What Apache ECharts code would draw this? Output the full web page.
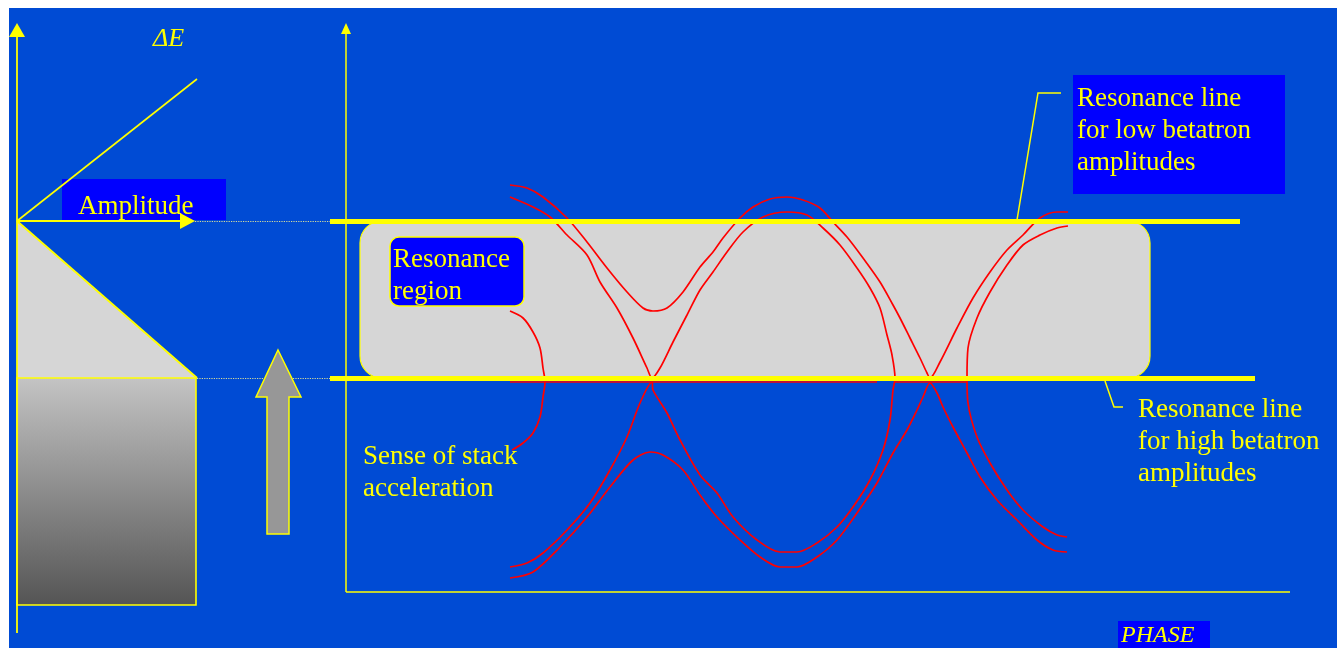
<!DOCTYPE html>
<html><head><meta charset="utf-8">
<script src="https://cdn.jsdelivr.net/npm/echarts@6/dist/echarts.min.js"></script>
<style>html,body{margin:0;padding:0;background:#fff}#c{width:1337px;height:648px}</style>
</head><body><div id="c"></div>
<script>
// ---------- DATA (phase-space diagram; x = phase, y = ΔE, arbitrary units) ----------
// Right panel: particle trajectories (red)
const trajOuterUpper = [[164,407],[181,404],[197,395],[221,374],[241,350],[261,324],[281,300],[297,284],[307,281],[321,284],[337,300],[354,325],[367,340],[377,354],[394,374],[407,385],[424,393],[441,395],[457,392],[474,384],[487,370],[501,355],[517,334],[534,310],[547,287],[554,274],[564,254],[574,234],[581,219],[584,214],[594,230],[611,264],[627,294],[644,320],[661,342],[677,357],[694,374],[711,380],[722,380]];
const trajSeparatrix = [[164,395],[187,385],[204,375],[221,357],[241,337],[254,310],[271,284],[287,254],[301,224],[306,214],[314,224],[327,250],[341,277],[354,302],[367,320],[381,340],[397,360],[417,375],[441,380],[461,377],[477,364],[494,347],[511,324],[524,304],[534,284],[541,257],[546,237],[549,214],[547,202],[544,172],[537,142],[524,112],[507,85],[491,65],[471,49],[451,40],[434,40],[411,52],[387,75],[371,99],[354,117],[334,152],[321,179],[307,202],[306,210],[294,189],[281,155],[264,122],[244,89],[221,62],[197,39],[181,29],[164,25]];
const trajOuterLower = [[164,14],[187,20],[214,45],[241,75],[264,105],[287,132],[304,140],[317,137],[337,122],[354,97],[371,75],[394,52],[414,35],[434,25],[451,25],[471,35],[491,52],[511,79],[531,109],[547,139],[561,162],[571,182],[577,195],[584,209],[591,199],[597,185],[607,165],[621,139],[634,115],[651,92],[671,72],[691,52],[707,42],[721,40]];
const trajRightInner = [[722,366],[711,364],[694,357],[677,347],[661,327],[644,300],[631,274],[622,244],[621,214],[622,189],[631,155],[644,129],[661,102],[677,82],[697,65],[711,57],[721,55]];
const trajLeftBucket = [[164,281],[177,274],[187,260],[194,244],[197,224],[199,210],[197,195],[194,175],[187,159],[177,149],[166,142]];
const trajBaseA = [[164,210],[531,210]];
const trajBaseB = [[548,210],[621,210]];

// Resonance lines (ΔE levels) and their phase extent
const resonanceLowAmpLevel = 371;
const resonanceHighAmpLevel = 214;
const resonanceLowAmpPhase = [-16, 894];
const resonanceHighAmpPhase = [-16, 909];
const resonanceRegion = [14, 371, 804, 214];  // phase0, ΔE0, phase1, ΔE1
const phaseAxisEnd = 944;
const deltaEAxisEnd = 563.5;

// Left panel: stack distribution (amplitude vs ΔE)
const stackDistribution = [[0,371],[180,214]];
const stackBody = [0, 214, 179, -13];
const amplitudeDeltaE = [[0,371],[180,513]];
const amplitudeAxisEnd = 170.5;
const leftAxisRange = [-41, 562];
const guideEnd = 313;

// Texts
const txtDeltaE = 'ΔE';
const txtAmplitude = 'Amplitude';
const txtRegion = 'Resonance\nregion';
const txtLowAmp = 'Resonance line\nfor low betatron\namplitudes';
const txtHighAmp = 'Resonance line\nfor high betatron\namplitudes';
const txtStack = 'Sense of stack\nacceleration';
const txtPhase = 'PHASE';

// ---------- CHART ----------
const Y = '#FFFF00';
const SERIF = '"Liberation Serif","Times New Roman",serif';
const chart = echarts.init(document.getElementById('c'), null, {renderer:'canvas', width:1337, height:648});

function redLine(name, data){
  return {type:'line', name, xAxisIndex:1, yAxisIndex:1, data, symbol:'none', z:3, silent:true, smooth:0.3,
    lineStyle:{color:'#FF0000', width:1.7}};
}
function marks(name, gi, lines, style, z){
  return {type:'line', name, xAxisIndex:gi, yAxisIndex:gi, data:[], z, silent:true,
    markLine:{silent:true, symbol:['none','none'], label:{show:false}, lineStyle:style, data:lines}};
}
function rectItem(radius, fill, lw){
  return function(p, api){
    const a = api.coord([api.value(0), api.value(1)]);
    const b = api.coord([api.value(2), api.value(3)]);
    return {type:'rect', shape:{x:a[0], y:a[1], width:b[0]-a[0], height:b[1]-a[1], r:radius},
      style:{fill, stroke:Y, lineWidth:lw}};
  };
}

const option = {
  backgroundColor:'#FFFFFF',
  animation:false,
  grid:[{left:0, top:0, width:337, height:648}, {left:300, top:0, width:1037, height:648}],
  xAxis:[{gridIndex:0, type:'value', min:-17, max:320, show:false},
         {gridIndex:1, type:'value', min:-46, max:991, show:false}],
  yAxis:[{gridIndex:0, type:'value', min:-56, max:592, show:false},
         {gridIndex:1, type:'value', min:-56, max:592, show:false}],
  series:[
    // left panel
    marks('left axes', 0, [
      [{coord:[0,leftAxisRange[0]]},{coord:[0,leftAxisRange[1]], symbol:'triangle', symbolSize:[16,14]}],
    ], {color:Y, width:1.8, type:'solid'}, 2),
    marks('ΔE vs amplitude', 0, [
      [{coord:amplitudeDeltaE[0]},{coord:amplitudeDeltaE[1]}]
    ], {color:Y, width:1.6, type:'solid'}, 1),
    {type:'line', name:'distribution', xAxisIndex:0, yAxisIndex:0, data:stackDistribution, symbol:'none', z:3, silent:true,
      lineStyle:{color:Y, width:2}, areaStyle:{color:'#D6D6D6', opacity:1, origin:resonanceHighAmpLevel}},
    {type:'custom', name:'stack', xAxisIndex:0, yAxisIndex:0, z:4, silent:true, data:[stackBody],
      renderItem:rectItem(0, new echarts.graphic.LinearGradient(0,0,0,1,[{offset:0,color:'#C4C4C4'},{offset:1,color:'#545454'}]), 1.6)},
    marks('amplitude', 0, [
      [{coord:[0,resonanceLowAmpLevel]},{coord:[amplitudeAxisEnd,resonanceLowAmpLevel], symbol:'triangle', symbolSize:[16,15]}]
    ], {color:Y, width:1.8, type:'solid'}, 5),
    marks('guides', 0, [
      [{coord:[178,resonanceLowAmpLevel]},{coord:[guideEnd,resonanceLowAmpLevel]}],
      [{coord:[180,resonanceHighAmpLevel]},{coord:[guideEnd,resonanceHighAmpLevel]}]
    ], {color:'rgba(235,235,150,0.9)', width:1.2, type:'dotted'}, 5),
    // right panel
    {type:'custom', name:'resonance region', xAxisIndex:1, yAxisIndex:1, z:1, silent:true, data:[resonanceRegion],
      renderItem:rectItem(22, '#D6D6D6', 1.2)},
    marks('phase axes', 1, [
      [{coord:[0,0]},{coord:[phaseAxisEnd,0]}],
      [{coord:[0,0]},{coord:[0,deltaEAxisEnd], symbol:'triangle', symbolSize:[10,11]}]
    ], {color:Y, width:1.5, type:'solid'}, 2),
    redLine('outer upper', trajOuterUpper),
    redLine('separatrix', trajSeparatrix),
    redLine('outer lower', trajOuterLower),
    redLine('right inner', trajRightInner),
    redLine('left bucket', trajLeftBucket),
    redLine('base A', trajBaseA),
    redLine('base B', trajBaseB),
    marks('resonance lines', 1, [
      [{coord:[resonanceLowAmpPhase[0],resonanceLowAmpLevel]},{coord:[resonanceLowAmpPhase[1],resonanceLowAmpLevel]}],
      [{coord:[resonanceHighAmpPhase[0],resonanceHighAmpLevel]},{coord:[resonanceHighAmpPhase[1],resonanceHighAmpLevel]}]
    ], {color:Y, width:5, type:'solid'}, 6)
  ],
  graphic:[
    {type:'rect', z:-10, silent:true, shape:{x:9, y:8, width:1328, height:640}, style:{fill:'#004BD4'}},
    {type:'text', z:50, x:153, y:39, style:{text:txtDeltaE, fill:Y, font:'italic 26px '+SERIF, verticalAlign:'middle'}},
    {type:'rect', z:2, shape:{x:62, y:179, width:164, height:41}, style:{fill:'#0000FF'}},
    {type:'text', z:51, x:78, y:207, style:{text:txtAmplitude, fill:Y, font:'27px '+SERIF, verticalAlign:'middle'}},
    {type:'polygon', z:50, shape:{points:[[278,350],[301,397],[289,397],[289,534],[267,534],[267,397],[256,397]]},
      style:{fill:'#979797', stroke:Y, lineWidth:1.5}},
    {type:'rect', z:50, shape:{x:390, y:237, width:134, height:69, r:9}, style:{fill:'#0000FF', stroke:Y, lineWidth:1.5}},
    {type:'text', z:51, x:393, y:276, style:{text:txtRegion, fill:Y, font:'27px '+SERIF, lineHeight:32, verticalAlign:'middle'}},
    {type:'rect', z:50, shape:{x:1073, y:75, width:212, height:119}, style:{fill:'#0000FF'}},
    {type:'text', z:51, x:1077, y:131, style:{text:txtLowAmp, fill:Y, font:'27px '+SERIF, lineHeight:32, verticalAlign:'middle'}},
    {type:'polyline', z:50, shape:{points:[[1017,220],[1038,93],[1061,93]]}, style:{stroke:Y, lineWidth:1.5, fill:null}},
    {type:'polyline', z:50, shape:{points:[[1105,381],[1114,407],[1123,407]]}, style:{stroke:Y, lineWidth:1.5, fill:null}},
    {type:'text', z:51, x:1138, y:442, style:{text:txtHighAmp, fill:Y, font:'27px '+SERIF, lineHeight:32, verticalAlign:'middle'}},
    {type:'text', z:51, x:363, y:473, style:{text:txtStack, fill:Y, font:'27px '+SERIF, lineHeight:32, verticalAlign:'middle'}},
    {type:'rect', z:50, shape:{x:1118, y:621, width:92, height:27}, style:{fill:'#0000FF'}},
    {type:'text', z:51, x:1121, y:636, style:{text:txtPhase, fill:Y, font:'italic 24px '+SERIF, verticalAlign:'middle'}}
  ]
};
chart.setOption(option);
</script></body></html>
